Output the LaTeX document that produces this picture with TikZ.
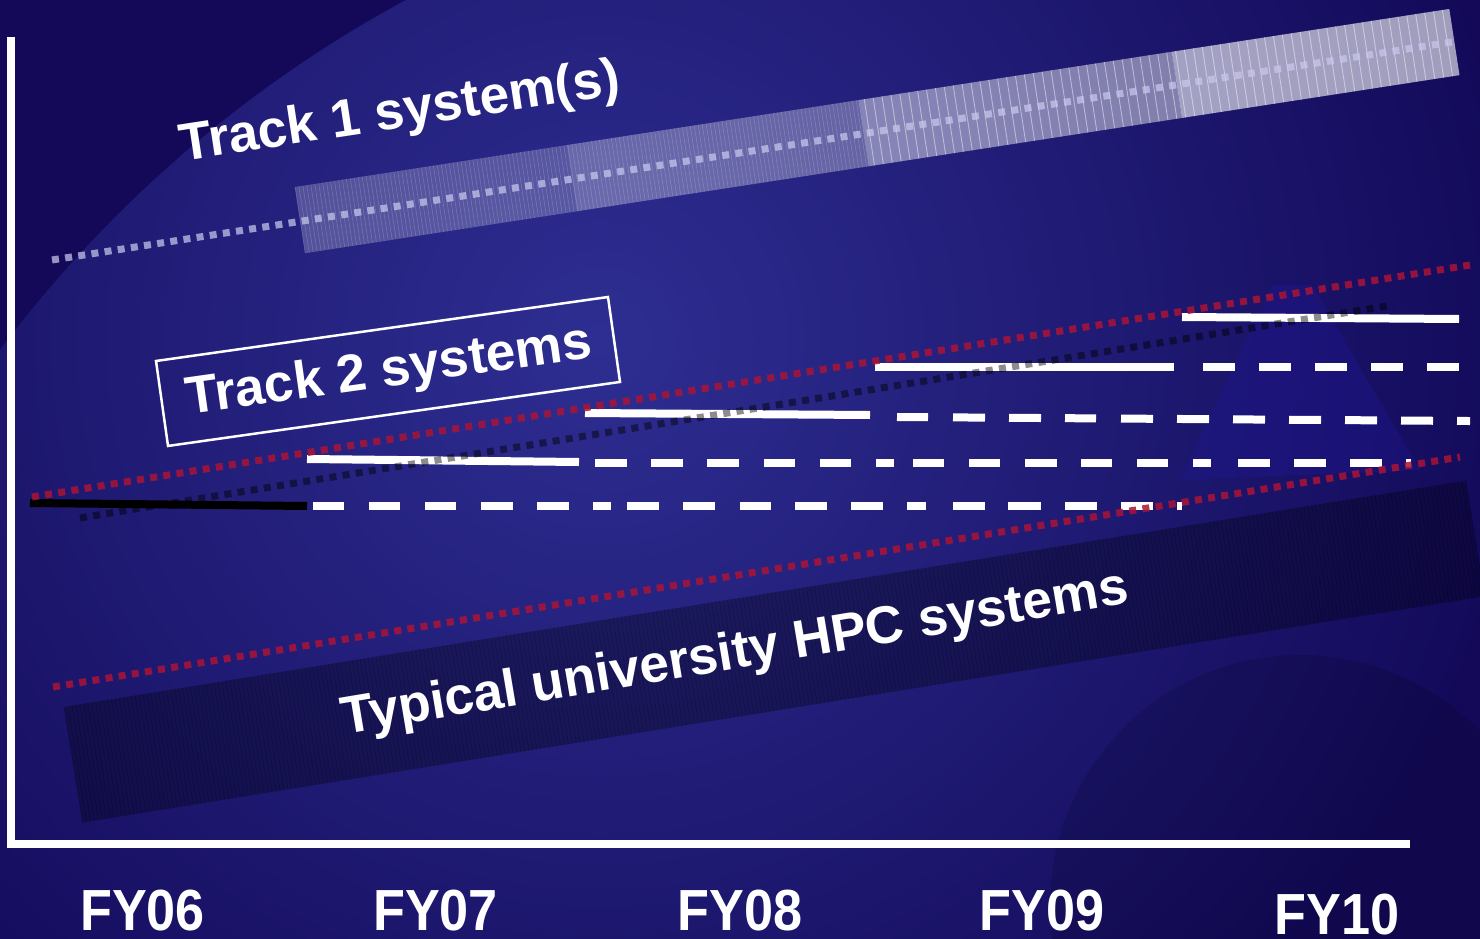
\documentclass[tikz,border=0pt]{standalone}
\usepackage{fontspec}
\setmainfont{Liberation Sans}
\definecolor{bgdark}{RGB}{19,9,88}
\definecolor{bgin}{RGB}{46,46,146}
\definecolor{bgout}{RGB}{19,10,90}
\definecolor{reddot}{RGB}{170,20,55}
\definecolor{lav}{RGB}{200,200,238}
\definecolor{wmlight}{RGB}{32,22,150}
\tikzset{
  wline/.style={white, line width=8pt},
  dotline/.style={line width=7pt, dash pattern=on 7pt off 6.3pt},
  reddots/.style={dotline, draw=reddot, draw opacity=0.85},
  darkdots/.style={dotline, draw=black, draw opacity=0.45},
  lavdots/.style={dotline, draw=lav, draw opacity=0.72},
  title/.style={text=white, font=\bfseries\fontsize{53}{60}\selectfont, inner sep=0pt},
  fy/.style={text=white, font=\bfseries\fontsize{58}{64}\selectfont, inner sep=0pt},
  watermark/.style={fill=wmlight, fill opacity=0.35},
}
\begin{document}
\begin{tikzpicture}[x=1pt,y=-1pt]
\useasboundingbox (0,0) rectangle (1480,939);
% background
\fill[bgdark] (0,0) rectangle (1480,939);
\begin{scope}
  \clip (1000,1100) circle (1250);
  \shade[inner color=bgin, outer color=bgout] (600,340) circle (920);
\end{scope}
% faint watermark shapes
\fill[watermark] (1272,285) -- (1312,285) -- (1420,470) -- (1180,480) -- cycle;
\fill[black, fill opacity=0.12] (1300,905) circle (250);

% Track 1 band
\begin{scope}[shift={(295,187)}, rotate=8.77]
  \fill[white, opacity=0.22] (0,0) rectangle (275,67);
  \fill[white, opacity=0.30] (275,0) rectangle (570,67);
  \fill[white, opacity=0.45] (570,0) rectangle (887,67);
  \fill[white, opacity=0.60] (887,0) rectangle (1168,67);
  \draw[white, opacity=0.18, line width=0.6pt, step=4] (0,0) grid (570,67);
  \draw[white, opacity=0.45, line width=0.9pt, step=9] (570,0) grid (1168,67);
\end{scope}
\node[title, rotate=8.7] (t1) at (400,114) {Track 1 system(s)};

% Track 2 box
\begin{scope}[shift={(156,361)}, rotate=8.06]
  \draw[white, line width=2.5pt] (0,0) rectangle (456.5,85.8);
  \node[title, rotate=8.06] (t2) at (229,44) {Track 2 systems};
\end{scope}

% HPC band
\begin{scope}[shift={(64,707)}, rotate=9.17]
  \fill[black, opacity=0.28] (0,0) rectangle (1420,117);
  \draw[black, opacity=0.22, line width=0.6pt, step=4] (0,0) grid (1420,117);
\end{scope}
\node[title, rotate=9.5] (hpc) at (735,655) {Typical university HPC systems};

% system lines
\coordinate (k1a) at (30,503); \coordinate (k1b) at (307,506);
\draw[black, line width=8pt] (k1a) -- (k1b);
\foreach \a/\b in {313/344,369/400,425/456,481/513,537/569,593/611,627/659,683/715,740/771,795/827,851/883,907/926,953/985,1008/1041,1065/1097,1121/1153,1177/1182}
  \draw[wline] (\a,506) -- (\b,506);

\coordinate (s2a) at (307,459); \coordinate (s2b) at (579,462);
\draw[wline] (s2a) -- (s2b);
\foreach \a/\b in {595/627,651/683,707/739,764/795,820/851,876/894,913/944,969/1000,1025/1057,1081/1112,1137/1168,1193/1211,1238/1270,1294/1326,1350/1382,1406/1411}
  \draw[wline] (\a,463) -- (\b,463);

\coordinate (s3a) at (585,413); \coordinate (s3b) at (870,415);
\draw[wline] (s3a) -- (s3b);
\foreach \a/\b in {897/928,953/985,1009/1041,1065/1096,1121/1153,1177/1209,1233/1265,1289/1321,1345/1377,1401/1433,1457/1470}
  \draw[wline] (\a,{417+(\a-897)*0.007}) -- (\b,{417+(\b-897)*0.007});

\coordinate (s4a) at (875,367); \coordinate (s4b) at (1174,367);
\draw[wline] (s4a) -- (s4b);
\foreach \a/\b in {1203/1235,1259/1291,1315/1347,1371/1403,1427/1459}
  \draw[wline] (\a,367) -- (\b,367);

\coordinate (s5a) at (1182,317); \coordinate (s5b) at (1459,319);
\draw[wline] (s5a) -- (s5b);

% dotted trend lines
\coordinate (d1a) at (52,260); \coordinate (d1b) at (1452,42);
\draw[lavdots] (d1a) -- (d1b);
\coordinate (ru1) at (32,497); \coordinate (ru2) at (1470,265);
\draw[reddots] (ru1) -- (ru2);
\coordinate (dk1) at (80,518); \coordinate (dk2) at (1393,305);
\draw[darkdots] (dk1) -- (dk2);
\coordinate (rl1) at (53,687); \coordinate (rl2) at (1460,457);
\draw[reddots] (rl1) -- (rl2);

% axes
\coordinate (ytop) at (11,37); \coordinate (orig) at (11,844); \coordinate (xend) at (1410,844);
\draw[white, line width=7.5pt] (ytop) -- (orig) -- (xend);

% year labels
\node[fy] (fy06) at (142.5,911) {\scalebox{0.9}[1]{FY06}};
\node[fy] (fy07) at (435.5,911) {\scalebox{0.9}[1]{FY07}};
\node[fy] (fy08) at (740,911) {\scalebox{0.9}[1]{FY08}};
\node[fy] (fy09) at (1042,911) {\scalebox{0.9}[1]{FY09}};
\node[fy] (fy10) at (1337,915) {\scalebox{0.9}[1]{FY10}};
\end{tikzpicture}
\end{document}
